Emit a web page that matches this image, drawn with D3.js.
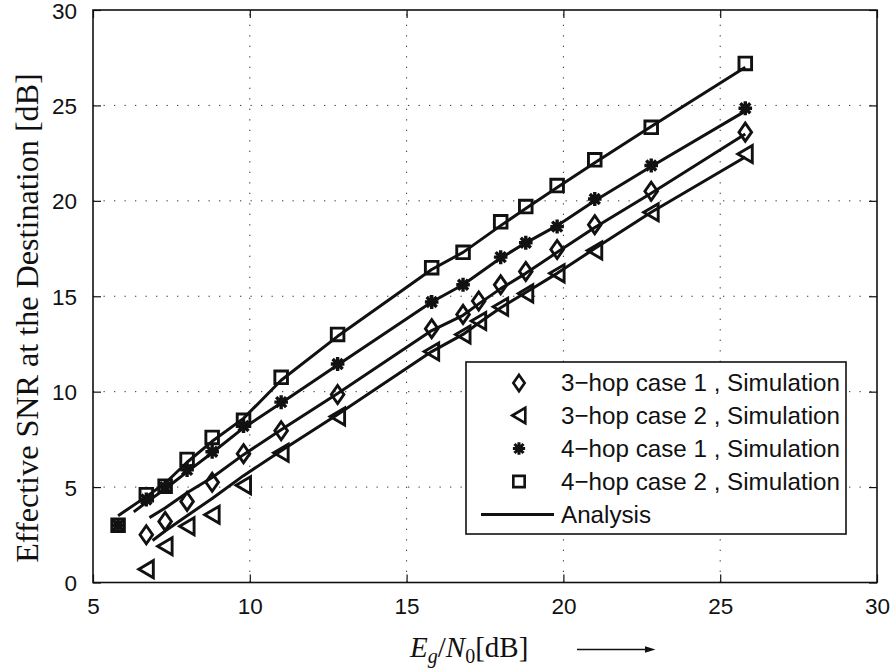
<!DOCTYPE html>
<html>
<head>
<meta charset="utf-8">
<script src="https://cdn.jsdelivr.net/npm/d3@7"></script>
<style>
  html, body { margin: 0; padding: 0; background: #fff; }
  svg { display: block; }
</style>
</head>
<body>
<svg id="chart" width="896" height="670"></svg>
<script>
// Simulation points (E_g/N_0 in dB -> effective SNR in dB)
const ebnoA = [6.7, 7.3, 8.0, 8.8, 9.8, 11.0, 12.8, 15.8, 16.8, 17.3, 18.0, 18.8, 19.8, 21.0, 22.8, 25.8];
const ebnoB = [5.8, 6.7, 7.3, 8.0, 8.8, 9.8, 11.0, 12.8, 15.8, 16.8, 18.0, 18.8, 19.8, 21.0, 22.8, 25.8];
const sim3hopCase1 = [2.5, 3.2, 4.25, 5.25, 6.75, 7.95, 9.85, 13.3, 14.05, 14.75, 15.6, 16.3, 17.45, 18.75, 20.5, 23.6];
const sim3hopCase2 = [0.7, 1.9, 2.95, 3.55, 5.1, 6.8, 8.7, 12.1, 13.0, 13.7, 14.45, 15.15, 16.2, 17.4, 19.4, 22.45];
const sim4hopCase1 = [3.0, 4.35, 5.0, 5.9, 6.85, 8.2, 9.45, 11.45, 14.7, 15.6, 17.05, 17.8, 18.65, 20.1, 21.85, 24.85];
const sim4hopCase2 = [3.0, 4.6, 5.05, 6.45, 7.6, 8.5, 10.75, 13.0, 16.5, 17.3, 18.9, 19.7, 20.8, 22.15, 23.85, 27.2];

// Analytical curves
const anaX3c1 = [6.8, 7.3, 8.0, 8.8, 9.8, 11.0, 12.8, 15.8, 16.8, 17.3, 18.0, 18.8, 19.8, 21.0, 22.8, 25.8];
const ana3c1  = [3.4, 3.9, 4.7, 5.5, 6.7, 8.0, 9.9, 13.2, 14.0, 14.6, 15.4, 16.2, 17.3, 18.6, 20.4, 23.5];
const anaX3c2 = [6.9, 7.3, 8.0, 8.8, 9.8, 11.0, 12.8, 15.8, 16.8, 17.3, 18.0, 18.8, 19.8, 21.0, 22.8, 25.8];
const ana3c2  = [2.2, 2.7, 3.5, 4.4, 5.6, 6.9, 8.8, 12.1, 13.0, 13.6, 14.4, 15.2, 16.2, 17.5, 19.4, 22.3];
const anaX4c1 = [6.3, 6.7, 7.3, 8.0, 8.8, 9.8, 11.0, 12.8, 15.8, 16.8, 18.0, 18.8, 19.8, 21.0, 22.8, 25.8];
const ana4c1  = [3.7, 4.2, 4.9, 5.8, 6.8, 8.1, 9.4, 11.4, 14.7, 15.6, 17.0, 17.8, 18.7, 20.0, 21.8, 24.7];
const anaX4c2 = [5.8, 6.7, 7.3, 8.0, 8.8, 9.8, 11.0, 12.8, 15.8, 16.8, 18.0, 18.8, 19.8, 21.0, 22.8, 25.8];
const ana4c2  = [3.5, 4.5, 5.2, 6.3, 7.4, 8.6, 10.6, 12.9, 16.4, 17.3, 18.7, 19.6, 20.7, 22.0, 23.9, 27.0];

const xTicks = [5, 10, 15, 20, 25, 30];
const yTicks = [0, 5, 10, 15, 20, 25, 30];
const legendLabels = [
  "3\u2212hop case 1 , Simulation",
  "3\u2212hop case 2 , Simulation",
  "4\u2212hop case 1 , Simulation",
  "4\u2212hop case 2 , Simulation",
  "Analysis"
];

const svg = d3.select("#chart");
const L = 93, R = 877, T = 10, B = 582.5;
const x = d3.scaleLinear().domain([5, 30]).range([L, R]);
const y = d3.scaleLinear().domain([0, 30]).range([B, T]);
const ink = "#111";
const sansFont = "Liberation Sans, Arial, Helvetica, sans-serif";
const serifFont = "Liberation Serif, Times New Roman, serif";

// dotted grid
const grid = svg.append("g").attr("stroke", "#333").attr("stroke-width", 1)
  .attr("stroke-dasharray", "1.3,9.2");
grid.selectAll("line.gx").data(xTicks.slice(1, -1)).join("line")
  .attr("x1", d => x(d)).attr("x2", d => x(d)).attr("y1", B).attr("y2", T);
grid.selectAll("line.gy").data(yTicks.slice(1, -1)).join("line")
  .attr("x1", L).attr("x2", R).attr("y1", d => y(d)).attr("y2", d => y(d));

// axes with inward ticks on all four sides
const tickLen = 8;
const axB = svg.append("g").attr("transform", `translate(0,${B})`)
  .call(d3.axisBottom(x).tickValues(xTicks).tickSizeInner(-tickLen).tickSizeOuter(0).tickPadding(16));
const axT = svg.append("g").attr("transform", `translate(0,${T})`)
  .call(d3.axisTop(x).tickValues(xTicks).tickSizeInner(-tickLen).tickSizeOuter(0).tickFormat(""));
const axL = svg.append("g").attr("transform", `translate(${L},0)`)
  .call(d3.axisLeft(y).tickValues(yTicks).tickSizeInner(-tickLen).tickSizeOuter(0).tickPadding(16));
const axR = svg.append("g").attr("transform", `translate(${R},0)`)
  .call(d3.axisRight(y).tickValues(yTicks).tickSizeInner(-tickLen).tickSizeOuter(0).tickFormat(""));
[axB, axT, axL, axR].forEach(a => {
  a.select(".domain").remove();
  a.selectAll(".tick line").attr("stroke", ink).attr("stroke-width", 1.2);
  a.selectAll("text").attr("fill", ink).attr("font-family", sansFont).attr("font-size", 22.5);
});
axL.selectAll("text").attr("dy", "0.36em");

// box
svg.append("rect").attr("x", L).attr("y", T).attr("width", R - L).attr("height", B - T)
  .attr("fill", "none").attr("stroke", ink).attr("stroke-width", 1.6);

// analysis lines
const lineGen = d3.line().x(d => x(d[0])).y(d => y(d[1]));
const analysis = [
  d3.zip(anaX3c1, ana3c1), d3.zip(anaX3c2, ana3c2),
  d3.zip(anaX4c1, ana4c1), d3.zip(anaX4c2, ana4c2)
];
svg.append("g").selectAll("path").data(analysis).join("path")
  .attr("d", lineGen).attr("fill", "none").attr("stroke", ink)
  .attr("stroke-width", 3).attr("stroke-linejoin", "round");

// marker shapes
const shapes = {
  diamond: "M0,-9 L6.3,0 L0,9 L-6.3,0 Z",
  triangle: "M-7.5,0 L7,-8.5 L7,8.5 Z",
  square: "M-6.3,-6.3 L6.3,-6.3 L6.3,6.3 L-6.3,6.3 Z",
  star: "M-6.8,0 L6.8,0 M0,-7 L0,7 M-5,-5 L5,5 M-5,5 L5,-5"
};
const markerStroke = k => k === "star" ? 3.4 : 2.9;
function drawMarkers(g, xs, ys, kind) {
  const pts = d3.zip(xs, ys);
  g.selectAll(null).data(pts).join("path")
    .attr("transform", d => `translate(${x(d[0])},${y(d[1])})`)
    .attr("d", shapes[kind])
    .attr("fill", kind === "star" ? ink : "none")
    .attr("stroke", ink)
    .attr("stroke-width", markerStroke(kind))
    .attr("stroke-linejoin", "miter");
}
const mk = svg.append("g");
drawMarkers(mk.append("g"), ebnoA, sim3hopCase1, "diamond");
drawMarkers(mk.append("g"), ebnoA, sim3hopCase2, "triangle");
drawMarkers(mk.append("g"), ebnoB, sim4hopCase1, "star");
drawMarkers(mk.append("g"), ebnoB, sim4hopCase2, "square");

// legend
const lg = svg.append("g");
lg.append("rect").attr("x", 466).attr("y", 362).attr("width", 380).attr("height", 172)
  .attr("fill", "#fff").attr("stroke", ink).attr("stroke-width", 1.6);
const rowY = [383, 415.5, 448.5, 481.5, 514.5];
const kinds = ["diamond", "triangle", "star", "square"];
kinds.forEach((k, i) => {
  lg.append("path").attr("transform", `translate(519,${rowY[i]}) scale(0.9)`).attr("d", shapes[k])
    .attr("fill", k === "star" ? ink : "none").attr("stroke", ink)
    .attr("stroke-width", markerStroke(k));
});
lg.append("line").attr("x1", 481).attr("x2", 554).attr("y1", rowY[4]).attr("y2", rowY[4])
  .attr("stroke", ink).attr("stroke-width", 3);
lg.selectAll("text").data(legendLabels).join("text")
  .attr("x", 561).attr("y", (d, i) => rowY[i] + 8.3)
  .attr("font-family", sansFont).attr("font-size", 24.2).attr("fill", ink)
  .text(d => d);

// y label
const yl = svg.append("text")
  .attr("transform", `translate(38,318) rotate(-90)`)
  .attr("text-anchor", "middle").attr("font-family", serifFont)
  .attr("font-size", 28).attr("fill", ink)
  .text("Effective SNR at the Destination [dB]");
const ylLen = yl.node().getComputedTextLength();
yl.attr("font-size", 28 * 490 / ylLen);

// x label: E_g / N_0 [dB]
const xl = svg.append("text").attr("x", 410).attr("y", 656.5)
  .attr("font-family", serifFont).attr("font-size", 29).attr("fill", ink);
xl.append("tspan").attr("font-style", "italic").text("E");
xl.append("tspan").attr("font-style", "italic").attr("font-size", 20).attr("dy", 6).text("g");
xl.append("tspan").attr("dy", -6).text("/");
xl.append("tspan").attr("font-style", "italic").text("N");
xl.append("tspan").attr("font-size", 20).attr("dy", 6).text("0");
xl.append("tspan").attr("dy", -6).text("[dB]");

// arrow after the x label
svg.append("line").attr("x1", 577).attr("x2", 648).attr("y1", 649.5).attr("y2", 649.5)
  .attr("stroke", ink).attr("stroke-width", 1.3);
svg.append("path").attr("d", "M645,646.2 L655.5,649.5 L645,652.8 Z").attr("fill", ink);
</script>
</body>
</html>
